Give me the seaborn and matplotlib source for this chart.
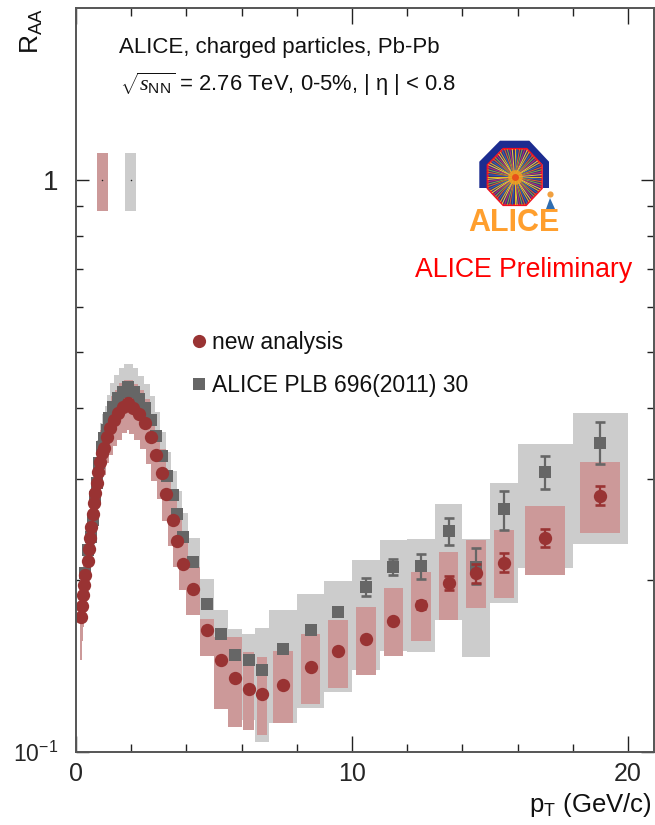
import numpy as np
import pandas as pd
import matplotlib
matplotlib.use("Agg")
import matplotlib.pyplot as plt
from matplotlib.lines import Line2D
from matplotlib.patches import Polygon
import seaborn as sns

# new analysis, pT < 4 bins
red_pt_low = [.17,.21,.24,.29,.34,.42,.47,.51,.55,.60,.65,.69,.75,.81,.87,.93,1.03,1.11,1.23,1.38,1.53,1.71,1.9,2.08,2.28,2.5,2.7,2.89,3.1,3.27,3.5,3.67,3.89]
red_raa_low = [.1724,.1800,.1881,.1959,.2039,.2155,.2261,.2363,.2471,.2607,.2721,.2833,.2949,.3091,.3217,.3327,.3395,.3559,.3680,.3806,.3910,.4016,.4070,.3999,.3898,.3764,.3549,.3309,.3078,.2821,.2542,.2341,.2131]
red_sys_rel_low = [.16,.13,.12,.11,.10,.10,.10,.10,.10,.10,.10,.10,.10,.10,.10,.10,.10,.10,.10,.10,.10,.10,.10,.10,.10,.10,.10,.10,.10,.10,.10,.10,.10]
# new analysis, high pT bins
red_pt_high = [4.25,4.75,5.25,5.75,6.25,6.75,7.5,8.5,9.5,10.5,11.5,12.5,13.5,14.5,15.5,17,19]
red_raa_high = [.1924,.1633,.1448,.1347,.1290,.1263,.1309,.1409,.1502,.1578,.1696,.1807,.1973,.2053,.2143,.2363,.2802]
red_sys_hi = [.2106,.1708,.1589,.1589,.1495,.1466,.1502,.1609,.1701,.1793,.1936,.2064,.2236,.2347,.2443,.2692,.3212]
red_sys_lo = [.1736,.1472,.1191,.1107,.1093,.1073,.1124,.1214,.1293,.1363,.1472,.1565,.1701,.1786,.1859,.2039,.2414]
red_sys_w = [.5,.48,.5,.52,.4,.35,.7,.71,.71,.71,.71,.71,.71,.71,.71,1.45,1.45]
red_err_pt = [12.5,13.5,14.5,15.5,17,19]
red_err_hi = [.1839,.2033,.2130,.2230,.2454,.2917]
red_err_lo = [.1779,.1923,.1972,.2067,.2282,.2702]

# ALICE PLB 696(2011) 30
gray_pt_low = [.33,.42,.53,.63,.69,.75,.85,.93,1.02,1.11,1.21,1.35,1.53,1.71,1.9,2.1,2.29,2.5,2.7,2.9,3.1,3.29,3.5,3.67,3.89]
gray_raa_low = [.2053,.2255,.2379,.2545,.2794,.2949,.3197,.3418,.3540,.3656,.3831,.4016,.4153,.4266,.4341,.4266,.4136,.3993,.3806,.3568,.3296,.3038,.2814,.2604,.2379]
gray_sys_rel_low = [.10,.10,.10,.10,.10,.10,.10,.10,.10,.10,.10,.10,.10,.10,.10,.10,.10,.10,.10,.10,.10,.10,.10,.10,.10]
gray_pt_high = [4.25,4.75,5.25,5.75,6.25,6.75,7.5,8.5,9.5,10.5,11.5,12.5,13.5,14.5,15.5,17,19]
gray_raa_high = [.2152,.1812,.1609,.1479,.1450,.1391,.1512,.1632,.1757,.1941,.2103,.2114,.2434,.2106,.2660,.3087,.3469]
gray_sys_hi = [.2369,.2007,.1771,.1641,.1609,.1650,.1771,.1888,.1992,.2166,.2347,.2357,.2714,.2357,.2953,.3456,.3914]
gray_sys_lo = [.1771,.1508,.1283,.1233,.1138,.1041,.1124,.1196,.1273,.1391,.1503,.1495,.1701,.1466,.1821,.2097,.2310]
gray_sys_w = [.5,.5,.5,.5,.5,.52,1,1,1,1,1,1,1,1,1,2,2]
gray_err_pt = [10.5,11.5,12.5,13.5,14.5,15.5,17,19]
gray_err_hi = [.2012,.2175,.2219,.2566,.2273,.2859,.3292,.3776]
gray_err_lo = [.1871,.2039,.2007,.2301,.1966,.2443,.2883,.3188]

# normalisation uncertainty boxes at RAA = 1
norm_pt = [.96,1.98]
norm_hi = [1.114,1.114]
norm_lo = [.884,.884]
norm_w = [.40,.40]

x_major = [0,10,20]
x_minor = [2,4,6,8,12,14,16,18]
y_major = [.1,1]
y_major_labels = ["$10^{-1}$","1"]
y_minor = [.2,.3,.4,.5,.6,.7,.8,.9]

RED, PINK, DARK, LIGHT = "#993333", "#CC9999", "#666666", "#CCCCCC"

sns.set_theme(style="ticks")
plt.rcParams.update({
    "font.family": ["Liberation Sans", "DejaVu Sans"],
    "mathtext.fontset": "custom", "mathtext.rm": "Liberation Sans",
    "mathtext.it": "Liberation Serif:italic", "mathtext.default": "regular",
})

W, H = 655, 825
fig = plt.figure(figsize=(W/100, H/100), dpi=100, facecolor="white")
ax = fig.add_axes([76/W, (H-752)/H, (654-76)/W, 744/H])

red_x_low = np.array(red_pt_low); red_y_low = np.array(red_raa_low)
gray_x_low = np.array(gray_pt_low); gray_y_low = np.array(gray_raa_low)

def boxes(x, lo, hi, w, color, z):
    lo, hi = np.asarray(lo), np.asarray(hi)
    ax.bar(x, hi-lo, bottom=lo, width=w, color=color, linewidth=0, zorder=z)

boxes(gray_x_low, gray_y_low*(1-np.array(gray_sys_rel_low)), gray_y_low*(1+np.array(gray_sys_rel_low)), np.gradient(gray_x_low)*1.6, LIGHT, 2)
boxes(gray_pt_high, gray_sys_lo, gray_sys_hi, gray_sys_w, LIGHT, 2)
boxes(norm_pt[1:], norm_lo[1:], norm_hi[1:], norm_w[1:], LIGHT, 2)
boxes(red_x_low, red_y_low*(1-np.array(red_sys_rel_low)), red_y_low*(1+np.array(red_sys_rel_low)), np.gradient(red_x_low)*1.6, PINK, 3)
boxes(red_pt_high, red_sys_lo, red_sys_hi, red_sys_w, PINK, 3)
boxes(norm_pt[:1], norm_lo[:1], norm_hi[:1], norm_w[:1], PINK, 3)
ax.scatter(norm_pt, [1,1], s=1.2, color="#222222", linewidth=0, zorder=4)

gray_df = pd.DataFrame({"pt": gray_pt_low+gray_pt_high, "raa": gray_raa_low+gray_raa_high})
red_df = pd.DataFrame({"pt": red_pt_low+red_pt_high, "raa": red_raa_low+red_raa_high})

ax.vlines(gray_err_pt, gray_err_lo, gray_err_hi, color=DARK, lw=1.6, zorder=4.5)
ax.scatter(gray_err_pt+gray_err_pt, gray_err_lo+gray_err_hi, marker="_", s=42, color=DARK, linewidth=1.9, zorder=4.5)
sns.scatterplot(data=gray_df, x="pt", y="raa", marker="s", s=82, color=DARK, linewidth=0, ax=ax, zorder=5, legend=False)
ax.vlines(red_err_pt, red_err_lo, red_err_hi, color=RED, lw=1.6, zorder=5.5)
ax.scatter(red_err_pt+red_err_pt, red_err_lo+red_err_hi, marker="_", s=42, color=RED, linewidth=1.9, zorder=5.5)
sns.scatterplot(data=red_df, x="pt", y="raa", marker="o", s=92, color=RED, linewidth=0, ax=ax, zorder=6, legend=False)

ax.set_yscale("log")
ax.set_xlim(0, 20.94)
ax.set_ylim(.1, 2)
ax.set_xticks(x_major)
ax.set_xticks(x_minor, minor=True)
ax.set_yticks(y_major, y_major_labels)
ax.set_yticks(y_minor, [""]*len(y_minor), minor=True)
ax.tick_params(which="major", axis="y", direction="in", length=9.5, width=1, color="#222222", left=True, right=True, labelsize=20, pad=13)
ax.tick_params(which="minor", axis="y", direction="in", length=4.8, width=1, color="#222222", left=True, right=True)
ax.tick_params(which="major", axis="x", direction="in", length=11.5, width=1, color="#222222", top=True, bottom=True, labelsize=18, pad=7)
ax.tick_params(which="minor", axis="x", direction="in", length=6, width=1, color="#222222", top=True, bottom=True)
ax.get_yticklabels()[0].set_fontsize(16.5)
for s in ax.spines.values():
    s.set_visible(True); s.set_color("#555555"); s.set_linewidth(1.4); s.set_zorder(8)
ax.set_xlabel("")
ax.set_ylabel("")

handles = [Line2D([], [], marker="o", ls="", color=RED, ms=9.5, mew=0),
           Line2D([], [], marker="s", ls="", color=DARK, ms=9.2, mew=0)]
ax.legend(handles, ["new analysis", "ALICE PLB 696(2011) 30"], frameon=False, fontsize=16.5,
          loc="upper left", bbox_to_anchor=(112/578, (752-331)/744), borderpad=0, borderaxespad=0,
          handlelength=1, handletextpad=.06, labelspacing=.86, labelcolor="#111111")

# overlay in pixel units for annotations and the logo
ov = fig.add_axes([0, 0, 1, 1], facecolor="none")
ov.set_xlim(0, W); ov.set_ylim(H, 0); ov.axis("off"); ov.set_zorder(10)
tk = "#111111"
ov.text(119, 47, "ALICE, charged particles, Pb-Pb", fontsize=16, color=tk, va="center")
ov.text(120, 84, r"$\sqrt{\mathit{s}_{NN}}$ = 2.76 TeV, 0-5%, | η | < 0.8", fontsize=15.8, color=tk, va="center")
ov.text(632, 270, "ALICE Preliminary", fontsize=19.2, color="#FF0000", ha="right", va="center")
ov.text(32, 8, "$R_{AA}$", fontsize=19, color=tk, rotation=90, ha="center", va="top")
ov.text(652, 805, "$p_{T}$ (GeV/c)", fontsize=18.5, color=tk, ha="right", va="center")

# logo
arch = [(479.3,188),(479.3,161.7),(500,140.7),(529.3,140.7),(549,161.7),(549,188),(542.7,188),(542.7,165),(526.7,149),(502,149),(487.7,165),(487.7,188)]
ov.add_patch(Polygon(arch, closed=True, fc="#1C2C90", ec="none"))
oct_pts = [(487.7,165),(503.3,149),(526.7,149),(541.7,165),(541.7,188.3),(526,205),(503.3,205),(487.7,188.3)]
octa = Polygon(oct_pts, closed=True, fc="#3A2F80", ec="#EE1122", lw=1.6)
ov.add_patch(octa)
ray_colors = ["#E8C020", "#2F6FB0", "#E06A20", "#7FB040", "#C03070", "#F0D040"]
for i, a in enumerate(np.arange(0, 2*np.pi, np.pi/36)):
    ln, = ov.plot([514.7, 514.7+34*np.cos(a)], [177, 177+34*np.sin(a)], color=ray_colors[i % 6], lw=.7)
    ln.set_clip_path(octa)
ov.scatter([514.7], [177], s=110, color="#F0A020", linewidth=0, alpha=.85, zorder=3)
ov.scatter([514.7], [177], s=25, color="#E8501A", linewidth=0, zorder=3)
ov.text(514, 223, "ALICE", fontsize=22, fontweight="bold", color="#FF9F2E", ha="center", va="center", zorder=4)
ov.add_patch(Polygon([(550,198),(546,209),(555,209)], closed=True, fc="#2F6DB0", ec="none", zorder=5))
ov.scatter([550], [194], s=20, color="#F0A040", linewidth=0, zorder=5)

fig.savefig("out.png", dpi=100, facecolor="white")
